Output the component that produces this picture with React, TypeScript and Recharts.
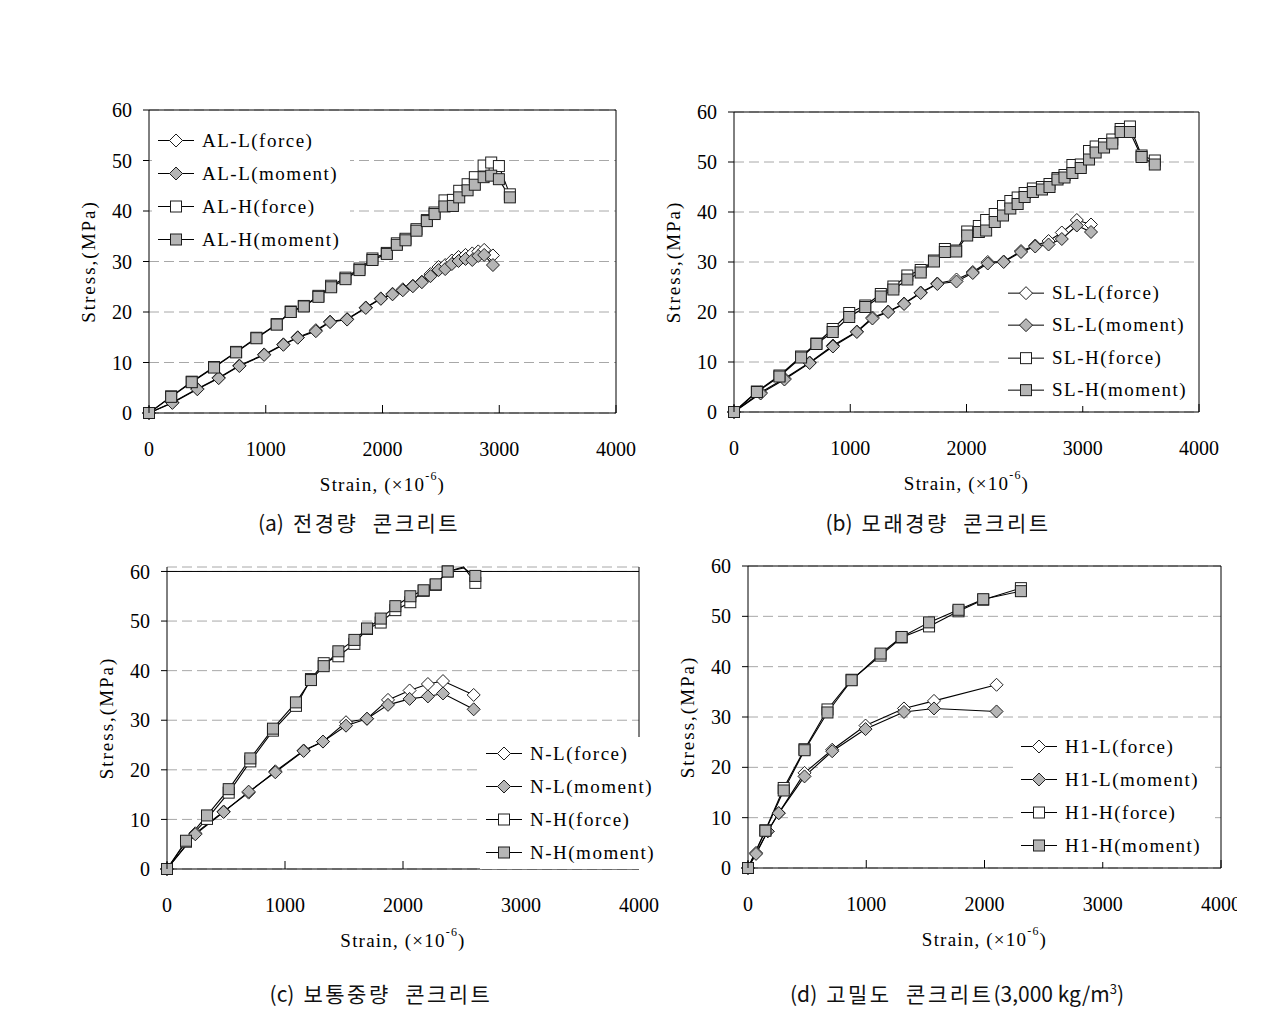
import React from 'react';
import { LineChart, Line, XAxis, YAxis, CartesianGrid, Legend, ReferenceLine } from 'recharts';

type Pt = [number, number];

const strainTicks = [0, 1000, 2000, 3000, 4000];
const stressTicks = [0, 10, 20, 30, 40, 50, 60];

// (a) 전경량 콘크리트
const alLForce: Pt[] = [[0, 0], [200, 2.1], [414, 4.8], [597, 7.0], [774, 9.4], [986, 11.6], [1151, 13.6], [1274, 15.0], [1429, 16.4], [1551, 18.1], [1697, 18.6], [1857, 20.9], [1986, 22.7], [2086, 23.6], [2174, 24.5], [2260, 25.2], [2337, 26.0], [2411, 27.5], [2480, 28.9], [2537, 29.3], [2594, 30.2], [2651, 30.9], [2711, 31.3], [2769, 31.6], [2820, 32.0], [2871, 32.3], [2946, 31.2]];
const alLMoment: Pt[] = [[0, 0], [200, 2.0], [414, 4.7], [597, 6.9], [774, 9.3], [986, 11.5], [1151, 13.5], [1274, 14.9], [1429, 16.2], [1551, 18.0], [1697, 18.5], [1857, 20.8], [1986, 22.6], [2086, 23.5], [2174, 24.3], [2260, 25.1], [2337, 25.9], [2411, 27.1], [2480, 28.3], [2537, 28.5], [2594, 29.5], [2651, 30.1], [2711, 30.5], [2769, 30.3], [2820, 31.1], [2871, 31.3], [2946, 29.3]];
const alHForce: Pt[] = [[0, 0], [190, 3.3], [366, 6.2], [557, 9.1], [746, 12.1], [920, 14.9], [1094, 17.6], [1214, 20.1], [1326, 21.2], [1451, 23.2], [1560, 25.2], [1683, 26.8], [1803, 28.6], [1914, 30.6], [2037, 31.7], [2123, 33.6], [2197, 34.5], [2291, 36.4], [2380, 38.2], [2446, 39.7], [2531, 42.1], [2603, 42.2], [2657, 44.0], [2729, 45.3], [2791, 46.7], [2866, 49.0], [2931, 49.6], [2997, 48.9], [3091, 43.3]];
const alHMoment: Pt[] = [[0, 0], [190, 3.2], [366, 6.1], [557, 9.0], [746, 12.0], [920, 14.8], [1094, 17.5], [1214, 20.0], [1326, 21.1], [1451, 23.0], [1560, 24.9], [1683, 26.5], [1803, 28.3], [1914, 30.3], [2037, 31.5], [2123, 33.3], [2197, 34.2], [2291, 36.1], [2380, 38.0], [2446, 39.4], [2531, 40.9], [2603, 41.0], [2657, 42.7], [2729, 44.1], [2791, 45.2], [2866, 46.7], [2931, 47.0], [2997, 46.3], [3091, 42.7]];

// (b) 모래경량 콘크리트
const slLForce: Pt[] = [[0, 0], [229, 3.9], [434, 6.7], [651, 9.9], [851, 13.3], [1057, 16.1], [1191, 18.9], [1326, 20.1], [1463, 21.7], [1606, 23.9], [1749, 25.7], [1914, 26.5], [2054, 28.0], [2183, 30.0], [2320, 30.1], [2469, 32.2], [2591, 33.3], [2706, 34.2], [2820, 35.9], [2949, 38.4], [3071, 37.5]];
const slLMoment: Pt[] = [[0, 0], [229, 3.7], [434, 6.5], [651, 9.8], [851, 13.1], [1057, 16.0], [1191, 18.7], [1326, 20.0], [1463, 21.6], [1606, 23.8], [1749, 25.6], [1914, 26.1], [2054, 27.8], [2183, 29.7], [2320, 30.0], [2469, 32.0], [2591, 33.1], [2706, 33.5], [2820, 34.6], [2949, 37.3], [3071, 36.0]];
const slHForce: Pt[] = [[0, 0], [197, 4.1], [391, 7.3], [577, 11.1], [709, 13.7], [849, 16.6], [991, 19.8], [1129, 21.3], [1263, 23.6], [1371, 25.1], [1491, 27.3], [1606, 28.4], [1720, 30.3], [1814, 32.6], [1911, 32.3], [2006, 36.1], [2106, 37.2], [2169, 38.4], [2243, 39.6], [2314, 41.2], [2377, 42.2], [2440, 42.9], [2500, 43.8], [2571, 44.7], [2649, 45.0], [2714, 45.6], [2783, 46.8], [2843, 47.4], [2911, 49.4], [2983, 49.5], [3054, 52.2], [3111, 53.1], [3183, 53.6], [3254, 54.5], [3326, 56.6], [3406, 57.1], [3506, 51.3], [3620, 50.3]];
const slHMoment: Pt[] = [[0, 0], [197, 4.0], [391, 7.1], [577, 10.9], [709, 13.6], [849, 16.0], [991, 19.0], [1129, 21.0], [1263, 23.1], [1371, 24.5], [1491, 26.5], [1606, 27.9], [1720, 30.1], [1814, 32.0], [1911, 32.1], [2006, 35.3], [2106, 36.0], [2169, 36.3], [2243, 38.0], [2314, 39.3], [2377, 40.7], [2440, 41.6], [2500, 43.0], [2571, 44.0], [2649, 44.5], [2714, 45.0], [2783, 46.5], [2843, 46.9], [2911, 47.8], [2983, 48.8], [3054, 50.5], [3111, 51.9], [3183, 52.9], [3254, 53.7], [3326, 56.0], [3406, 56.0], [3506, 51.0], [3620, 49.5]];

// (c) 보통중량 콘크리트
const nLForce: Pt[] = [[0, 0], [240, 7.2], [480, 11.6], [692, 15.4], [918, 19.7], [1158, 23.9], [1322, 25.7], [1517, 29.6], [1695, 30.3], [1873, 34.1], [2056, 36.0], [2211, 37.3], [2339, 37.9], [2599, 35.1]];
const nLMoment: Pt[] = [[0, 0], [240, 7.0], [480, 11.5], [692, 15.6], [918, 19.5], [1158, 23.8], [1322, 25.7], [1517, 28.9], [1695, 30.3], [1873, 33.1], [2056, 34.3], [2211, 34.8], [2339, 35.4], [2599, 32.2]];
const nHForce: Pt[] = [[0, 0], [161, 5.5], [339, 10.1], [523, 15.4], [706, 21.7], [898, 27.9], [1093, 32.9], [1220, 38.3], [1328, 41.5], [1452, 42.9], [1588, 45.4], [1695, 48.4], [1811, 49.7], [1935, 52.2], [2062, 53.8], [2175, 56.1], [2277, 57.3], [2379, 60.0], [2514, 60.9], [2613, 57.7]];
const nHMoment: Pt[] = [[0, 0], [161, 5.7], [339, 10.8], [523, 16.1], [706, 22.3], [898, 28.3], [1093, 33.6], [1220, 38.1], [1328, 40.9], [1452, 43.9], [1588, 46.2], [1695, 48.5], [1811, 50.5], [1935, 53.0], [2062, 55.0], [2175, 56.2], [2277, 57.4], [2379, 60.0], [2514, 60.7], [2613, 59.1]];

// (d) 고밀도 콘크리트
const h1LForce: Pt[] = [[0, 0], [68, 3.0], [167, 7.3], [260, 10.9], [478, 18.9], [712, 23.5], [994, 28.3], [1319, 31.7], [1573, 33.2], [2102, 36.4]];
const h1LMoment: Pt[] = [[0, 0], [68, 2.8], [167, 7.3], [260, 10.9], [478, 18.2], [712, 23.2], [994, 27.6], [1319, 31.0], [1573, 31.7], [2102, 31.1]];
const h1HForce: Pt[] = [[0, 0], [147, 7.5], [302, 15.9], [478, 23.6], [672, 31.5], [876, 37.4], [1121, 42.2], [1299, 45.8], [1531, 48.0], [1780, 51.0], [1989, 53.3], [2308, 55.6]];
const h1HMoment: Pt[] = [[0, 0], [147, 7.4], [302, 15.4], [478, 23.4], [672, 30.9], [876, 37.3], [1121, 42.6], [1299, 45.9], [1531, 48.8], [1780, 51.3], [1989, 53.4], [2308, 55.0]];

const GRAY = '#b5b5b5';
const EDGE = '#1e1e1e';
const SERIF = "'Liberation Serif', 'Times New Roman', serif";
const SANS_KR = "'Noto Sans CJK KR', 'Noto Sans', sans-serif";
const X_MAX = 4000;
const Y_MAX = 60;

type Shape = 'diamond' | 'square';
type SeriesDef = { name: string; pts: Pt[]; shape: Shape; fill: string };
type Box = { left: number; top: number; right: number; bottom: number };
type PanelDef = {
  id: string;
  prefix: string;
  series: Pt[][];
  plot: Box;
  legend: { left: number; top: number; width: number; rowH: number };
  tag: string;
  ko: string;
  tail?: boolean;
  capX: number;
  capY: number;
};

const ML = 10;
const YW = 80;
const MT = 20;
const MR = 30;
const XH = 95;
const X_TICK_GAP = 36;

function Marker({ cx, cy, shape, fill }: { cx: number; cy: number; shape: Shape; fill: string }) {
  if (shape === 'diamond') {
    const r = 6.5;
    return (
      <polygon
        points={`${cx},${cy - r} ${cx + r},${cy} ${cx},${cy + r} ${cx - r},${cy}`}
        fill={fill}
        stroke={EDGE}
        strokeWidth={1}
      />
    );
  }
  return <rect x={cx - 5.5} y={cy - 5.5} width={11} height={11} fill={fill} stroke={EDGE} strokeWidth={1} />;
}

function buildSeries(prefix: string, sets: Pt[][]): SeriesDef[] {
  const names = ['L(force)', 'L(moment)', 'H(force)', 'H(moment)'];
  return sets.map((pts, i) => ({
    name: `${prefix}-${names[i]}`,
    pts,
    shape: i < 2 ? 'diamond' : 'square',
    fill: i % 2 === 0 ? '#fff' : GRAY,
  }));
}

function StrainTick(props: any) {
  const { x, y, payload } = props;
  const axisY = y - X_TICK_GAP;
  return (
    <g>
      <line x1={x} x2={x} y1={axisY} y2={axisY - 8} stroke="#000" strokeWidth={1} />
      <text x={x} y={y} dy="0.35em" textAnchor="middle" fontFamily={SERIF} fontSize={20} fill="#000">
        {payload.value}
      </text>
    </g>
  );
}

function LegendBox({ series, rowH }: { series: SeriesDef[]; rowH: number }) {
  return (
    <div style={{ display: 'flex', flexDirection: 'column' }}>
      {series.map((s) => (
        <div key={s.name} style={{ display: 'flex', alignItems: 'center', height: rowH }}>
          <svg width={48} height={rowH} style={{ display: 'block', flex: 'none' }}>
            <line x1={6} x2={42} y1={rowH / 2} y2={rowH / 2} stroke="#000" strokeWidth={1} />
            <Marker cx={24} cy={rowH / 2} shape={s.shape} fill={s.fill} />
          </svg>
          <span
            style={{
              fontFamily: SERIF,
              fontSize: 19,
              letterSpacing: 1.5,
              color: '#000',
              whiteSpace: 'nowrap',
              marginLeft: 2,
            }}
          >
            {s.name}
          </span>
        </div>
      ))}
    </div>
  );
}

const panels: PanelDef[] = [
  {
    id: 'a',
    prefix: 'AL',
    series: [alLForce, alLMoment, alHForce, alHMoment],
    plot: { left: 149, top: 110, right: 616, bottom: 413 },
    legend: { left: 152, top: 124, width: 198, rowH: 33 },
    tag: '(a)',
    ko: '전경량  콘크리트',
    capX: 359,
    capY: 522,
  },
  {
    id: 'b',
    prefix: 'SL',
    series: [slLForce, slLMoment, slHForce, slHMoment],
    plot: { left: 734, top: 112, right: 1199, bottom: 412 },
    legend: { left: 1002, top: 277, width: 196, rowH: 32.3 },
    tag: '(b)',
    ko: '모래경량  콘크리트',
    capX: 938,
    capY: 522,
  },
  {
    id: 'c',
    prefix: 'N',
    series: [nLForce, nLMoment, nHForce, nHMoment],
    plot: { left: 167, top: 567, right: 639, bottom: 869 },
    legend: { left: 480, top: 737, width: 185, rowH: 33 },
    tag: '(c)',
    ko: '보통중량  콘크리트',
    capX: 381,
    capY: 993,
  },
  {
    id: 'd',
    prefix: 'H1',
    series: [h1LForce, h1LMoment, h1HForce, h1HMoment],
    plot: { left: 748, top: 566, right: 1221, bottom: 868 },
    legend: { left: 1015, top: 730, width: 200, rowH: 33 },
    tag: '(d)',
    ko: '고밀도  콘크리트',
    tail: true,
    capX: 957,
    capY: 993,
  },
];

function Panel({ p }: { p: PanelDef }) {
  const series = buildSeries(p.prefix, p.series);
  const plotW = p.plot.right - p.plot.left;
  const plotH = p.plot.bottom - p.plot.top;
  const chartLeft = p.plot.left - ML - YW;
  const chartTop = p.plot.top - MT;
  const width = ML + YW + plotW + MR;
  const height = MT + plotH + XH;
  const localPlotLeft = ML + YW;
  const localPlotBottom = MT + plotH;

  return (
    <div style={{ position: 'absolute', left: chartLeft, top: chartTop }}>
      <LineChart width={width} height={height} margin={{ top: MT, right: MR, bottom: 0, left: ML }}>
        <CartesianGrid vertical={false} stroke="#a8a8a8" strokeDasharray="10 5" />
        {/* plot frame: top and right edges */}
        <ReferenceLine y={Y_MAX} stroke="#000" strokeWidth={1} />
        <ReferenceLine x={X_MAX} stroke="#000" strokeWidth={1} />
        <XAxis
          dataKey="x"
          type="number"
          domain={[0, X_MAX]}
          ticks={strainTicks}
          height={XH}
          tickSize={0}
          tickMargin={X_TICK_GAP}
          tick={<StrainTick />}
          axisLine={{ stroke: '#000' }}
          interval={0}
          label={() => (
            <text
              x={localPlotLeft + plotW / 2}
              y={localPlotBottom + 71}
              textAnchor="middle"
              dominantBaseline="central"
              fontFamily={SERIF}
              fontSize={19}
              letterSpacing={1.2}
              fill="#000"
            >
              Strain, (×10
              <tspan dy={-8} fontSize={12}>-6</tspan>
              <tspan dy={8}>)</tspan>
            </text>
          )}
        />
        <YAxis
          type="number"
          domain={() => [0, Y_MAX]}
          ticks={stressTicks}
          width={YW}
          tickSize={6}
          tickMargin={11}
          tickLine={{ stroke: '#000' }}
          axisLine={{ stroke: '#000' }}
          interval={0}
          tick={{ fontFamily: SERIF, fontSize: 20, fill: '#000' }}
          label={() => {
            const cx = localPlotLeft - 61;
            const cy = MT + plotH / 2;
            return (
              <text
                x={cx}
                y={cy}
                transform={`rotate(-90, ${cx}, ${cy})`}
                textAnchor="middle"
                dominantBaseline="central"
                fontFamily={SERIF}
                fontSize={19}
                letterSpacing={2}
                fill="#000"
              >
                Stress,(MPa)
              </text>
            );
          }}
        />
        {series.map((s) => (
          <Line
            key={s.name}
            name={s.name}
            data={s.pts.map(([x, y]) => ({ x, y }))}
            dataKey="y"
            type="linear"
            stroke="#000"
            strokeWidth={1.1}
            isAnimationActive={false}
            legendType="none"
            dot={(d: any) =>
              d.value > Y_MAX ? (
                <g key={`dot-${s.name}-${d.index}`} />
              ) : (
                <Marker key={`dot-${s.name}-${d.index}`} cx={d.cx} cy={d.cy} shape={s.shape} fill={s.fill} />
              )
            }
            activeDot={false}
          />
        ))}
        <Legend
          layout="vertical"
          align="center"
          verticalAlign="middle"
          wrapperStyle={{
            left: p.legend.left - chartLeft,
            top: p.legend.top - chartTop,
            width: p.legend.width,
            height: p.legend.rowH * 4,
            background: '#fff',
          }}
          content={() => <LegendBox series={series} rowH={p.legend.rowH} />}
        />
      </LineChart>
    </div>
  );
}

export default function App() {
  return (
    <div
      style={{
        position: 'absolute',
        left: 0,
        top: 0,
        width: 1237,
        height: 1013,
        overflow: 'hidden',
        background: '#fff',
      }}
    >
      {panels.map((p) => (
        <Panel key={p.id} p={p} />
      ))}
      {panels.map((p) => (
        <div
          key={`cap-${p.id}`}
          style={{
            position: 'absolute',
            left: p.capX,
            top: p.capY,
            transform: 'translate(-50%, -50%)',
            fontFamily: SANS_KR,
            fontSize: 21,
            color: '#111',
            whiteSpace: 'pre',
          }}
        >
          <span style={{ marginRight: 9 }}>{p.tag}</span>
          <span style={{ letterSpacing: 2.5 }}>{p.ko}</span>
          {p.tail && (
            <span>
              (3,000 kg/m<sup style={{ fontSize: 13 }}>3</sup>)
            </span>
          )}
        </div>
      ))}
    </div>
  );
}
